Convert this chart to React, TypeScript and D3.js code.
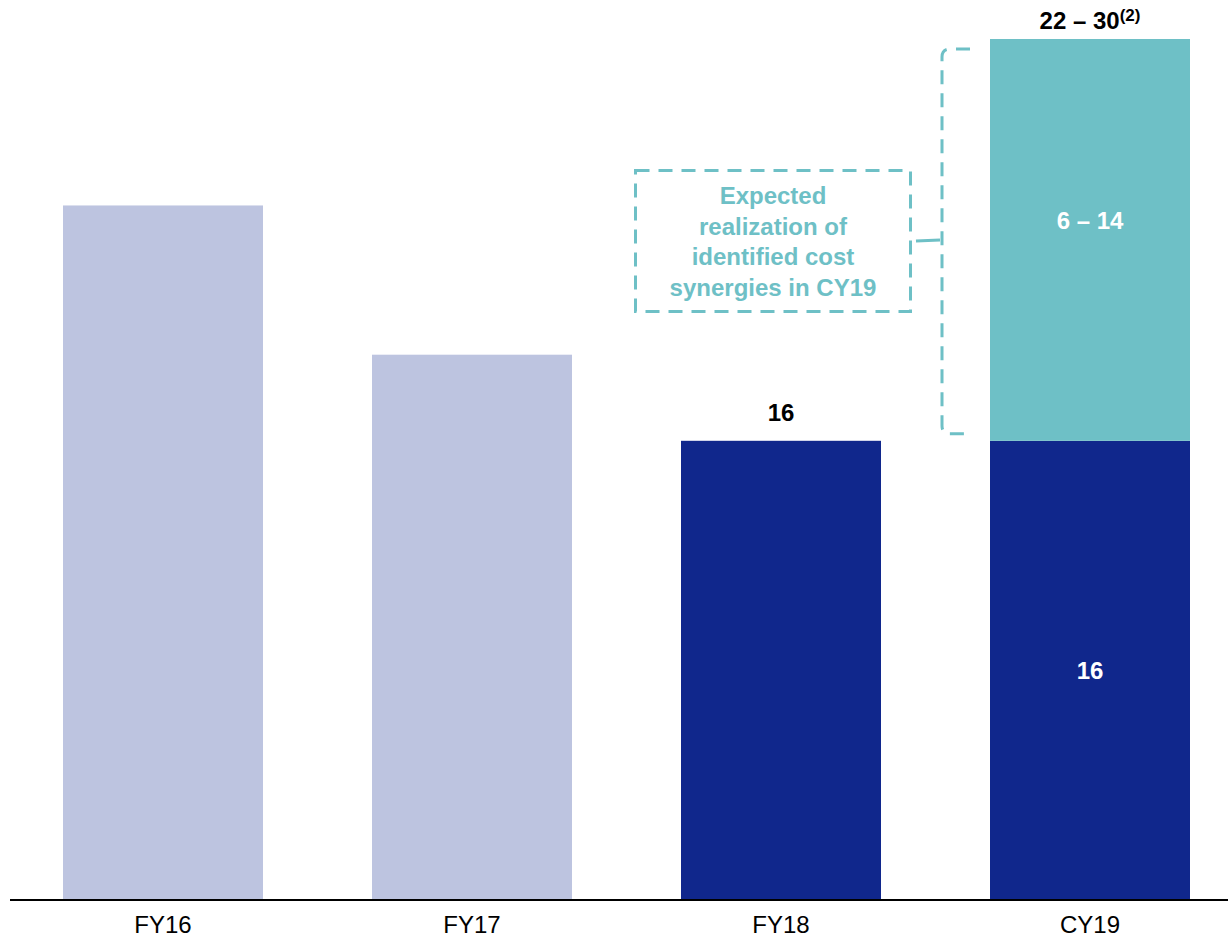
import React from "react";
import * as d3 from "d3";

const categories = ["FY16", "FY17", "FY18", "CY19"];
const baseValues = [24.2, 19.0, 16, 16];
const synergyValues = [0, 0, 0, 14];
const barColors = ["#BDC4E0", "#BDC4E0", "#10278C", "#10278C"];
const topLabelMain = ["", "", "16", "22 – 30"];
const topLabelSup = ["", "", "", "(2)"];
const baseInnerLabels = ["", "", "", "16"];
const synergyInnerLabels = ["", "", "", "6 – 14"];
const annotationLines = ["Expected", "realization of", "identified cost", "synergies in CY19"];

const W = 1228;
const H = 937;
const TEAL = "#6EC0C6";
const FONT = "'Liberation Sans', Arial, sans-serif";

export default function App() {
  const pIn = 109 / 309;
  const x = d3
    .scaleBand<string>()
    .domain(categories)
    .range([8.5, 8.5 + 309 * categories.length])
    .paddingInner(pIn)
    .paddingOuter(pIn / 2);
  const y = d3.scaleLinear().domain([0, 30]).range([900, 39]);
  const bw = x.bandwidth();

  const synTop = y(baseValues[3] + synergyValues[3]);
  const synBot = y(baseValues[3]);
  const bx = 942;
  const r = 8;
  const bracketPath = `M ${bx + 28} ${synTop + 10} L ${bx + r} ${synTop + 10} Q ${bx} ${synTop + 10} ${bx} ${synTop + 10 + r} L ${bx} ${synBot - 7 - r} Q ${bx} ${synBot - 7} ${bx + r} ${synBot - 7} L ${bx + 28} ${synBot - 7}`;

  return (
    <svg width={W} height={H} style={{ position: "absolute", left: 0, top: 0 }} fontFamily={FONT}>
      <rect width={W} height={H} fill="#fff" />
      {categories.map((c, i) => {
        const top = y(baseValues[i] + synergyValues[i]);
        const hasSup = !!topLabelSup[i];
        return (
          <g key={c}>
            <rect x={x(c)} y={y(baseValues[i])} width={bw} height={y(0) - y(baseValues[i])} fill={barColors[i]} />
            {synergyValues[i] > 0 && (
              <rect
                x={x(c)}
                y={top}
                width={bw}
                height={y(baseValues[i]) - top}
                fill={TEAL}
              />
            )}
            <text x={x(c)! + bw / 2} y={933} textAnchor="middle" fontSize={24} fill="#000">
              {c}
            </text>
            {topLabelMain[i] && (
              <text
                x={x(c)! + bw / 2 + (hasSup ? 0 : 0)}
                y={hasSup ? top - 10 : top - 20}
                textAnchor="middle"
                fontSize={24}
                fontWeight="bold"
                fill="#000"
              >
                {topLabelMain[i]}
                {hasSup && (
                  <tspan fontSize={17} dy={-8}>
                    {topLabelSup[i]}
                  </tspan>
                )}
              </text>
            )}
            {baseInnerLabels[i] && (
              <text
                x={x(c)! + bw / 2}
                y={(y(0) + y(baseValues[i])) / 2 + 9}
                textAnchor="middle"
                fontSize={24}
                fontWeight="bold"
                fill="#fff"
              >
                {baseInnerLabels[i]}
              </text>
            )}
            {synergyInnerLabels[i] && (
              <text
                x={x(c)! + bw / 2}
                y={229}
                textAnchor="middle"
                fontSize={24}
                fontWeight="bold"
                fill="#fff"
              >
                {synergyInnerLabels[i]}
              </text>
            )}
          </g>
        );
      })}
      <line x1={10} x2={W} y1={900} y2={900} stroke="#000" strokeWidth={2} />

      <rect
        x={635.5}
        y={170.5}
        width={275}
        height={141}
        fill="none"
        stroke={TEAL}
        strokeWidth={3}
        strokeDasharray="14 9"
      />
      {annotationLines.map((l, i) => (
        <text key={l} x={773} y={204 + i * 30.5} textAnchor="middle" fontSize={24} fontWeight="bold" fill={TEAL}>
          {l}
        </text>
      ))}
      <path d={bracketPath} fill="none" stroke={TEAL} strokeWidth={3} strokeDasharray="14 9" />
      <line x1={916} x2={940} y1={241} y2={240} stroke={TEAL} strokeWidth={3} />
    </svg>
  );
}
